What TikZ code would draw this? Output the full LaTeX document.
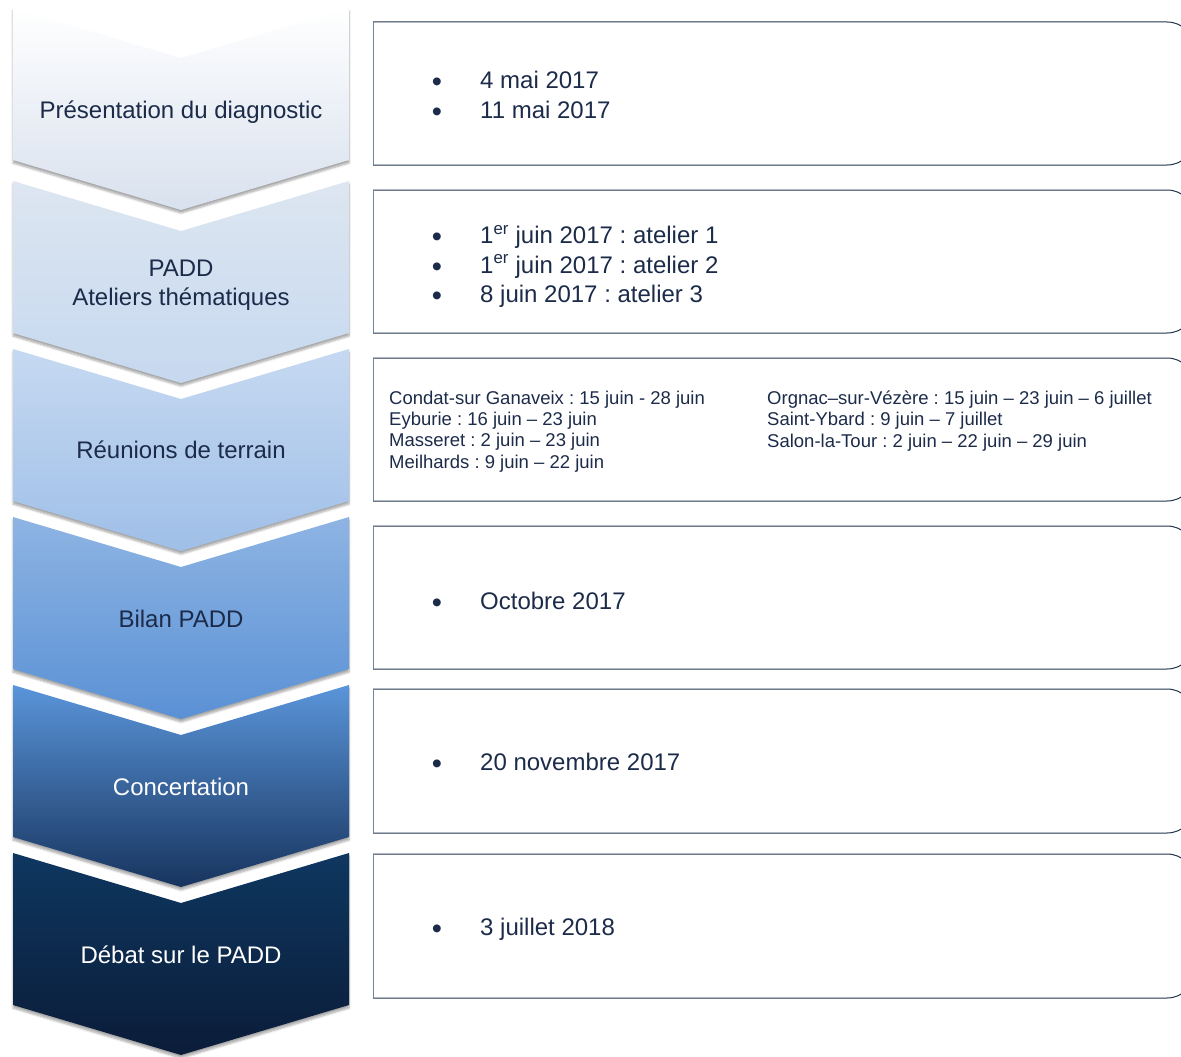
\documentclass[tikz,border=0pt]{standalone}
\usepackage{fontspec}
\setmainfont{Liberation Sans}
\usepackage{xcolor}
\usepackage{tikz}
\usetikzlibrary{shadows.blur}
\definecolor{navytext}{HTML}{1C2B49}
\definecolor{boxline}{HTML}{23344F}
\definecolor{boxleft}{HTML}{75839B}
\definecolor{chevAb}{HTML}{D8E1EE}
\definecolor{chevBt}{HTML}{DDE6F1}
\definecolor{chevBb}{HTML}{C6D8EF}
\definecolor{chevCt}{HTML}{C6D9F1}
\definecolor{chevCb}{HTML}{9FBFE8}
\definecolor{chevDt}{HTML}{8EB4E3}
\definecolor{chevDb}{HTML}{5A91D5}
\definecolor{chevEt}{HTML}{5A95DA}
\definecolor{chevEb}{HTML}{17345E}
\definecolor{chevFt}{HTML}{0E3760}
\definecolor{chevFb}{HTML}{0B1C38}
\frenchspacing

\tikzset{
  chevron/.style={blur shadow={shadow xshift=0pt,shadow yshift=-3pt,shadow blur steps=6,shadow opacity=35}},
  steplabel/.style={text=navytext,font=\fontsize{24}{29}\selectfont,align=center,inner sep=0pt},
  darklabel/.style={steplabel,text=white},
  datetext/.style={anchor=base west,text=navytext,font=\fontsize{24}{29}\selectfont,inner sep=0pt},
  datebullet/.style={anchor=base,text=navytext,font=\fontsize{29}{29}\selectfont,inner sep=0pt,yshift=-3pt},
  townlist/.style={anchor=north west,text=navytext,font=\fontsize{18.5}{21.4}\selectfont,align=left,inner sep=0pt},
}

\begin{document}
\begin{tikzpicture}[x=1pt,y=-1pt]
\useasboundingbox (0,0) rectangle (1181,1057);
\clip (0,0) rectangle (1181,1057);

% chevrons
\foreach \ytop/\ctop/\cbot in {8/white/chevAb,181/chevBt/chevBb,349/chevCt/chevCb,517/chevDt/chevDb,685/chevEt/chevEb,853/chevFt/chevFb}
  \shade[chevron,top color=\ctop,bottom color=\cbot] (13,\ytop) -- (181,\ytop+50) -- (349,\ytop) -- (349,\ytop+152) -- (181,\ytop+202) -- (13,\ytop+152) -- cycle;

\node[steplabel,anchor=base] (diag) at (181,118.6) {Présentation du diagnostic};
\node[steplabel] (ateliers) at (181,285) {PADD\\Ateliers thématiques};
\node[steplabel,anchor=base] (terrain) at (181,458.6) {Réunions de terrain};
\node[steplabel,anchor=base] (bilan) at (181,627.6) {Bilan PADD};
\node[darklabel,anchor=base] (concert) at (181,795.6) {Concertation};
\node[darklabel,anchor=base] (debat) at (181,963.6) {Débat sur le PADD};

% date boxes
\foreach \ytop/\ybot in {22/165,190/333,358/501,526/669,689/833,854/998} {
  \draw[boxline,line width=1pt] (373,\ytop) -- (1167,\ytop) arc (-90:0:28) -- (1195,\ybot-28) arc (0:90:28) -- (373,\ybot);
  \draw[boxleft,line width=1pt] (373,\ytop) -- (373,\ybot);
}

\node[datebullet] (b1a) at (437,88.6) {•};
\node[datetext] (d1a) at (480,88.6) {4 mai 2017};
\node[datebullet] (b1b) at (437,118.6) {•};
\node[datetext] (d1b) at (480,118.6) {11 mai 2017};

\node[datebullet] (b2a) at (437,243.6) {•};
\node[datetext] (d2a) at (480,243.6) {1\textsuperscript{er} juin 2017 : atelier 1};
\node[datebullet] (b2b) at (437,273) {•};
\node[datetext] (d2b) at (480,273) {1\textsuperscript{er} juin 2017 : atelier 2};
\node[datebullet] (b2c) at (437,302.6) {•};
\node[datetext] (d2c) at (480,302.6) {8 juin 2017 : atelier 3};

\node[townlist] (townsL) at (389,390.5) {Condat-sur Ganaveix : 15 juin - 28 juin\\Eyburie : 16 juin – 23 juin\\Masseret : 2 juin – 23 juin\\Meilhards : 9 juin – 22 juin};
\node[townlist] (townsR) at (767,390.5) {Orgnac–sur-Vézère : 15 juin – 23 juin – 6 juillet\\Saint-Ybard : 9 juin – 7 juillet\\Salon-la-Tour : 2 juin – 22 juin – 29 juin};

\node[datebullet] (b4) at (437,609.6) {•};
\node[datetext] (d4) at (480,609.6) {Octobre 2017};
\node[datebullet] (b5) at (437,770.6) {•};
\node[datetext] (d5) at (480,770.6) {20 novembre 2017};
\node[datebullet] (b6) at (437,935.6) {•};
\node[datetext] (d6) at (480,935.6) {3 juillet 2018};
\end{tikzpicture}
\end{document}
